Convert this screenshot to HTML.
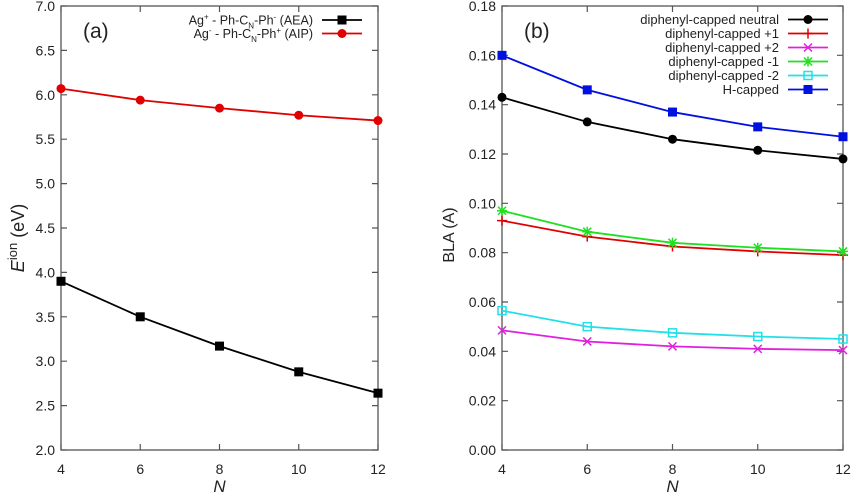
<!DOCTYPE html>
<html><head><meta charset="utf-8"><style>
body{margin:0;background:#fff;}
svg{display:block;font-family:"Liberation Sans",sans-serif;}
</style></head><body>
<svg id="c" width="855" height="492" viewBox="0 0 855 492"></svg>
<script>
const xTicks=[4,6,8,10,12];
const N=[4,6,8,10,12];
const aTicks=[2.0,2.5,3.0,3.5,4.0,4.5,5.0,5.5,6.0,6.5,7.0];
const aea=[3.90,3.50,3.17,2.88,2.64];
const aip=[6.07,5.94,5.85,5.77,5.71];
const bTicks=[0,0.02,0.04,0.06,0.08,0.10,0.12,0.14,0.16,0.18];
const bNeutral=[0.143,0.133,0.126,0.1215,0.118];
const bP1=[0.093,0.0865,0.0825,0.0805,0.079];
const bP2=[0.0485,0.044,0.042,0.041,0.0405];
const bM1=[0.097,0.0885,0.084,0.082,0.0805];
const bM2=[0.0565,0.050,0.0475,0.046,0.045];
const bH=[0.160,0.146,0.137,0.131,0.127];
const NS="http://www.w3.org/2000/svg";
const svg=document.getElementById('c');
function el(t,a,p){const e=document.createElementNS(NS,t);for(const k in a)e.setAttribute(k,a[k]);(p||svg).appendChild(e);return e;}
function marker(g,type,x,y,c){
  let e;
  if(type==='sq'){e=el('rect',{x:x-4.5,y:y-4.5,width:9,height:9,fill:c},g);}
  else if(type==='ci'){e=el('circle',{cx:x,cy:y,r:4.5,fill:c},g);}
  else if(type==='osq'){e=el('rect',{x:x-4,y:y-4,width:8,height:8,fill:'none',stroke:c,'stroke-width':1.5},g);}
  else if(type==='plus'){e=el('path',{d:`M${x-5} ${y}H${x+5}M${x} ${y-5}V${y+5}`,stroke:c,'stroke-width':1.5},g);}
  else if(type==='x'){e=el('path',{d:`M${x-4} ${y-4}L${x+4} ${y+4}M${x-4} ${y+4}L${x+4} ${y-4}`,stroke:c,'stroke-width':1.5},g);}
  else if(type==='star'){e=el('path',{d:`M${x-5} ${y}H${x+5}M${x} ${y-5}V${y+5}M${x-4} ${y-4}L${x+4} ${y+4}M${x-4} ${y+4}L${x+4} ${y-4}`,stroke:c,'stroke-width':1.5},g);}
  
  
}
function panel(cfg){
  const {x0,x1,y0,y1,ymin,ymax,yt,fmt,name}=cfg;
  const sx=v=>x0+(v-4)/(12-4)*(x1-x0);
  const sy=v=>y0-(v-ymin)/(ymax-ymin)*(y0-y1);
  const g=el('g',{});
  
  
  const fr=el('rect',{x:x0,y:y1,width:x1-x0,height:y0-y1,fill:'none',stroke:'#555','stroke-width':1.3},g);
  
  
  xTicks.forEach(v=>{
    const x=sx(v);
    el('path',{d:`M${x} ${y0}v-6M${x} ${y1}v6`,stroke:'#555','stroke-width':1.2},g);
    const t=el('text',{x:x,y:y0+24,'text-anchor':'middle','font-size':14,fill:'#222'},g);
    t.textContent=v;
    
    
  });
  yt.forEach(v=>{
    const y=sy(v);
    el('path',{d:`M${x0} ${y}h6M${x1} ${y}h-6`,stroke:'#555','stroke-width':1.2},g);
    const t=el('text',{x:x0-6,y:y+5,'text-anchor':'end','font-size':14,fill:'#222'},g);
    t.textContent=fmt(v);
    
    
  });
  const xl=el('text',{x:(x0+x1)/2,y:y0+42,'text-anchor':'middle','font-size':17,'font-style':'italic',fill:'#222'},g);
  xl.textContent='N';
  
  
  cfg.series.forEach((s,i)=>{
    const sg=el('g',{},g);
    
    
    const pts=N.map((n,j)=>sx(n)+','+sy(s.v[j])).join(' ');
    el('polyline',{points:pts,fill:'none',stroke:s.c,'stroke-width':1.8},sg);
    N.forEach((n,j)=>marker(sg,s.m,sx(n),sy(s.v[j]),s.c));
    const ly=cfg.ly0+i*cfg.ldy;
    const lg=el('g',{},g);
    
    
    const lt=el('text',{x:cfg.lx,y:ly+4.5,'text-anchor':'end','font-size':cfg.lfs,fill:'#222'},lg);
    lt.innerHTML=s.label;
    el('line',{x1:cfg.lx+9,x2:cfg.lx+49,y1:ly,y2:ly,stroke:s.c,'stroke-width':1.8},lg);
    marker(lg,s.m,cfg.lx+29,ly,s.c);
  });
  const pl=el('text',{x:x0+22,y:y1+32,'font-size':21,fill:'#222'},g);
  pl.textContent=cfg.tag;
  
  
}
panel({name:'panel-a',tag:'(a)',x0:61,x1:378,y0:450,y1:6,ymin:2,ymax:7,yt:aTicks,fmt:v=>v.toFixed(1),
  lx:313,ly0:20,ldy:13.5,lfs:12.5,
  series:[
    {key:'aea',v:aea,c:'#000',m:'sq',label:'Ag<tspan dy="-5" font-size="8">+</tspan><tspan dy="5"> - Ph-C</tspan><tspan dy="4" font-size="8">N</tspan><tspan dy="-4">-Ph</tspan><tspan dy="-5" font-size="8">-</tspan><tspan dy="5"> (AEA)</tspan>'},
    {key:'aip',v:aip,c:'#e00000',m:'ci',label:'Ag<tspan dy="-5" font-size="8">-</tspan><tspan dy="5"> - Ph-C</tspan><tspan dy="4" font-size="8">N</tspan><tspan dy="-4">-Ph</tspan><tspan dy="-5" font-size="8">+</tspan><tspan dy="5"> (AIP)</tspan>'}
  ]});
panel({name:'panel-b',tag:'(b)',x0:502,x1:843,y0:450,y1:6,ymin:0,ymax:0.18,yt:bTicks,fmt:v=>v.toFixed(2),
  lx:779,ly0:19.5,ldy:14,lfs:13,
  series:[
    {key:'neutral',v:bNeutral,c:'#000',m:'ci',label:'diphenyl-capped neutral'},
    {key:'plus1',v:bP1,c:'#e00000',m:'plus',label:'diphenyl-capped +1'},
    {key:'plus2',v:bP2,c:'#e020e0',m:'x',label:'diphenyl-capped +2'},
    {key:'minus1',v:bM1,c:'#20e020',m:'star',label:'diphenyl-capped -1'},
    {key:'minus2',v:bM2,c:'#20e0e8',m:'osq',label:'diphenyl-capped -2'},
    {key:'hcapped',v:bH,c:'#0010e0',m:'sq',label:'H-capped'}
  ]});
const ya=el('text',{transform:'translate(24,238) rotate(-90)','text-anchor':'middle','font-size':18,fill:'#222'});
ya.innerHTML='<tspan font-style="italic">E</tspan><tspan dy="-7" font-size="13">ion</tspan><tspan dy="7"> (eV)</tspan>';


const yb=el('text',{transform:'translate(454,235) rotate(-90)','text-anchor':'middle','font-size':16,fill:'#222'});
yb.textContent='BLA (A)';


</script>
</body></html>
